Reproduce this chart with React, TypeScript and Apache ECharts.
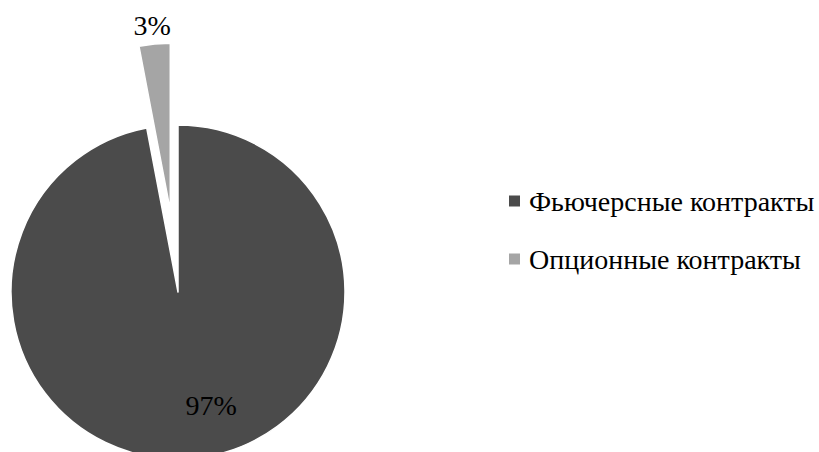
import React, { useEffect, useRef } from "react";
import * as echarts from "echarts";

// Доля контрактов по типу
const categories = ["Фьючерсные контракты", "Опционные контракты"];
const shares = [97, 3];
const colors = ["#4b4b4b", "#a5a5a5"];

const FONT = "Liberation Serif";

export default function App() {
  const ref = useRef<HTMLDivElement>(null);

  useEffect(() => {
    if (!ref.current) return;
    const chart = echarts.init(ref.current, undefined, { renderer: "svg" });

    const data = categories.map((name, i) => ({
      name,
      value: shares[i],
      selected: i === 1,
      itemStyle: { color: colors[i] },
    }));

    chart.setOption({
      animation: false,
      backgroundColor: "#ffffff",
      textStyle: { fontFamily: FONT },
      legend: {
        orient: "vertical",
        left: 502,
        top: 180,
        itemWidth: 13,
        itemHeight: 13,
        itemGap: 26,
        icon: "rect",
        data: categories,
        selectedMode: false,
        textStyle: {
          fontFamily: FONT,
          fontSize: 28,
          lineHeight: 32,
          color: "#000",
          padding: [0, 0, 0, 3],
        },
      },
      series: [
        {
          type: "pie",
          center: [178, 292],
          radius: 167,
          startAngle: 90,
          clockwise: true,
          selectedMode: "single",
          selectedOffset: 82,
          avoidLabelOverlap: false,
          itemStyle: { borderColor: "#ffffff", borderWidth: 1.5 },
          emphasis: { disabled: true },
          label: {
            show: true,
            position: "inside",
            formatter: "{c}%",
            fontFamily: FONT,
            fontSize: 28,
            color: "#000",
          },
          labelLine: { show: false },
          labelLayout: (params: any) =>
            params.dataIndex === 0
              ? { dx: 25, dy: 27 }
              : { dx: -10, dy: -99 },
          data,
        },
      ],
    });

    return () => chart.dispose();
  }, []);

  return (
    <div
      ref={ref}
      style={{ position: "absolute", left: 0, top: 0, width: 819, height: 452 }}
    />
  );
}
